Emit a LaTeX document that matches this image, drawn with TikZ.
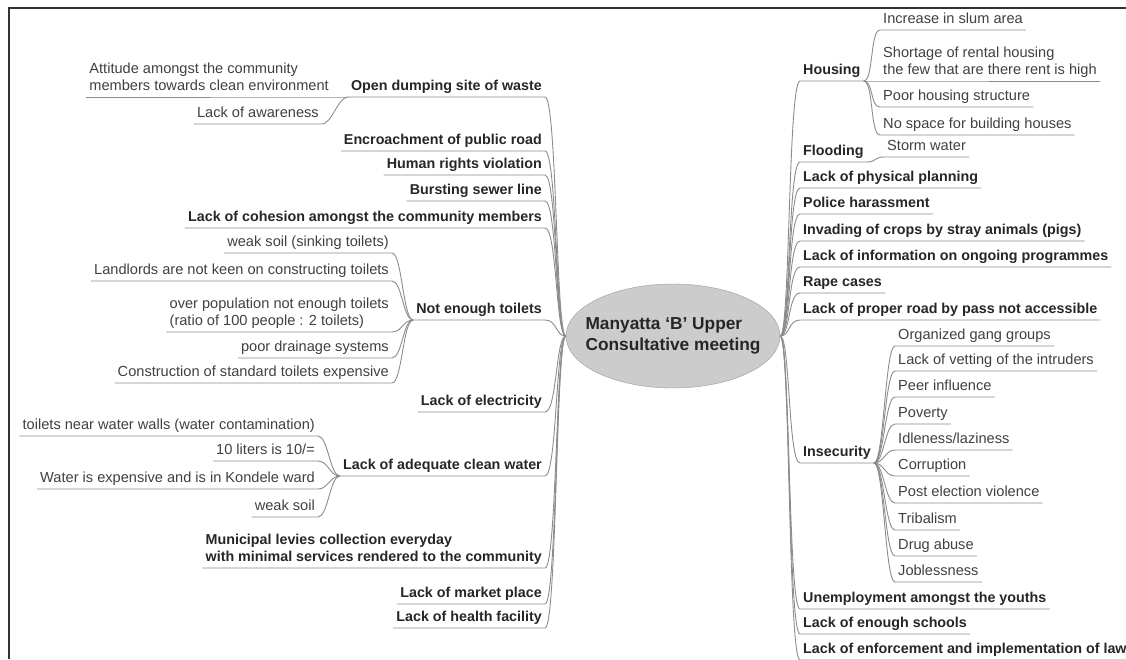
\documentclass[tikz,border=0pt]{standalone}
\usepackage{fontspec}
\setmainfont{Liberation Sans}
\usetikzlibrary{shapes.geometric}

\tikzset{
	topic/.style={font=\fontsize{14.3}{17.5}\selectfont\bfseries, text=black!85, inner xsep=3pt, inner ysep=3pt, text depth=3pt},
	subtopic/.style={font=\fontsize{14.6}{17.5}\selectfont, text=black!75, inner xsep=3pt, inner ysep=3pt, text depth=3pt},
	branch/.style={draw=black!45, line width=0.9pt},
	hub/.style={ellipse, draw=black!40, fill=black!20, minimum width=214pt, minimum height=104pt, inner sep=0pt},
	hubtext/.style={font=\fontsize{17.3}{21}\selectfont\bfseries, text=black!85, align=left}
}

\begin{document}
\begin{tikzpicture}[x=1pt, y=-1pt]

	\useasboundingbox (0,0) rectangle (1126,659);
	\draw[black!80, line width=2.2pt] (1126,8) -- (9,8) -- (9,659);

	\node[hub, label={[hubtext]center:Manyatta `B' Upper\\Consultative meeting}] (hub) at (673,336) {};

	% left side
	\node[topic, anchor=south east] (dump) at (545,97) {Open dumping site of waste};
	\node[subtopic, anchor=south east, align=left] (attitude) at (332,97) {Attitude amongst the community\\members towards clean environment};
	\node[subtopic, anchor=south east] (awareness) at (322,124) {Lack of awareness};
	\node[topic, anchor=south east] (road) at (545,151) {Encroachment of public road};
	\node[topic, anchor=south east] (rights) at (545,175) {Human rights violation};
	\node[topic, anchor=south east] (sewer) at (545,201) {Bursting sewer line};
	\node[topic, anchor=south east] (cohesion) at (545,228) {Lack of cohesion amongst the community members};
	\node[topic, anchor=south east] (toilets) at (545,320) {Not enough toilets};
	\node[subtopic, anchor=south east] (soil) at (392,253) {weak soil (sinking toilets)};
	\node[subtopic, anchor=south east] (landlords) at (392,281) {Landlords are not keen on constructing toilets};
	\node[subtopic, anchor=south east, align=left] (overpop) at (392,332) {over population not enough toilets\\(ratio of 100 people : 2 toilets)};
	\node[subtopic, anchor=south east] (drainage) at (392,358) {poor drainage systems};
	\node[subtopic, anchor=south east] (construction) at (392,383) {Construction of standard toilets expensive};
	\node[topic, anchor=south east] (power) at (545,412) {Lack of electricity};
	\node[topic, anchor=south east] (water) at (545,476) {Lack of adequate clean water};
	\node[subtopic, anchor=south east] (nearwells) at (318,436) {toilets near water walls (water contamination)};
	\node[subtopic, anchor=south east] (liters) at (318,461) {10 liters is 10/=};
	\node[subtopic, anchor=south east] (expensive) at (318,489) {Water is expensive and is in Kondele ward};
	\node[subtopic, anchor=south east] (weaksoil) at (318,517) {weak soil};
	\node[topic, anchor=south east, align=left] (levies) at (545,568) {Municipal levies collection everyday\\with minimal services rendered to the community};
	\node[topic, anchor=south east] (market) at (545,604) {Lack of market place};
	\node[topic, anchor=south east] (health) at (545,628) {Lack of health facility};

	% right side
	\node[topic, anchor=south west] (housing) at (800,81) {Housing};
	\node[subtopic, anchor=south west] (slum) at (880,30) {Increase in slum area};
	\node[subtopic, anchor=south west, align=left] (rental) at (880,81) {Shortage of rental housing\\the few that are there rent is high};
	\node[subtopic, anchor=south west] (structure) at (880,107) {Poor housing structure};
	\node[subtopic, anchor=south west] (space) at (880,135) {No space for building houses};
	\node[topic, anchor=south west] (flooding) at (800,162) {Flooding};
	\node[subtopic, anchor=south west] (storm) at (884,157) {Storm water};
	\node[topic, anchor=south west] (planning) at (800,188) {Lack of physical planning};
	\node[topic, anchor=south west] (police) at (800,214) {Police harassment};
	\node[topic, anchor=south west] (crops) at (800,241) {Invading of crops by stray animals (pigs)};
	\node[topic, anchor=south west] (info) at (800,267) {Lack of information on ongoing programmes};
	\node[topic, anchor=south west] (rape) at (800,293) {Rape cases};
	\node[topic, anchor=south west] (bypass) at (800,320) {Lack of proper road by pass not accessible};
	\node[topic, anchor=south west] (insecurity) at (800,463) {Insecurity};
	\node[subtopic, anchor=south west] (gangs) at (895,346) {Organized gang groups};
	\node[subtopic, anchor=south west] (vetting) at (895,371) {Lack of vetting of the intruders};
	\node[subtopic, anchor=south west] (peers) at (895,397) {Peer influence};
	\node[subtopic, anchor=south west] (poverty) at (895,424) {Poverty};
	\node[subtopic, anchor=south west] (idleness) at (895,450) {Idleness/laziness};
	\node[subtopic, anchor=south west] (corruption) at (895,476) {Corruption};
	\node[subtopic, anchor=south west] (violence) at (895,503) {Post election violence};
	\node[subtopic, anchor=south west] (tribalism) at (895,530) {Tribalism};
	\node[subtopic, anchor=south west] (drugs) at (895,556) {Drug abuse};
	\node[subtopic, anchor=south west] (jobless) at (895,582) {Joblessness};
	\node[topic, anchor=south west] (youths) at (800,609) {Unemployment amongst the youths};
	\node[topic, anchor=south west] (schools) at (800,634) {Lack of enough schools};
	\node[topic, anchor=south west] (laws) at (800,660) {Lack of enforcement and implementation of law};

	% branches
	\foreach \n in {dump,road,rights,sewer,cohesion,toilets,power,water,levies,market,health}
	{
		\draw[branch] (\n.south west) -- (\n.south east) .. controls +(12,0) and +(-10,0) .. (hub.west);
	}
	\foreach \n in {housing,flooding,planning,police,crops,info,rape,bypass,insecurity,youths,schools,laws}
	{
		\draw[branch] (hub.east) .. controls +(10,0) and +(-12,0) .. (\n.south west) -- (\n.south east);
	}
	\foreach \s/\p in {attitude/dump,awareness/dump,soil/toilets,landlords/toilets,overpop/toilets,drainage/toilets,construction/toilets,nearwells/water,liters/water,expensive/water,weaksoil/water}
	{
		\draw[branch] (\s.south west) -- (\s.south east) .. controls +(10,0) and +(-10,0) .. (\p.south west);
	}
	\foreach \s/\p in {slum/housing,rental/housing,structure/housing,space/housing,storm/flooding,gangs/insecurity,vetting/insecurity,peers/insecurity,poverty/insecurity,idleness/insecurity,corruption/insecurity,violence/insecurity,tribalism/insecurity,drugs/insecurity,jobless/insecurity}
	{
		\draw[branch] (\p.south east) .. controls +(10,0) and +(-10,0) .. (\s.south west) -- (\s.south east);
	}

\end{tikzpicture}
\end{document}
